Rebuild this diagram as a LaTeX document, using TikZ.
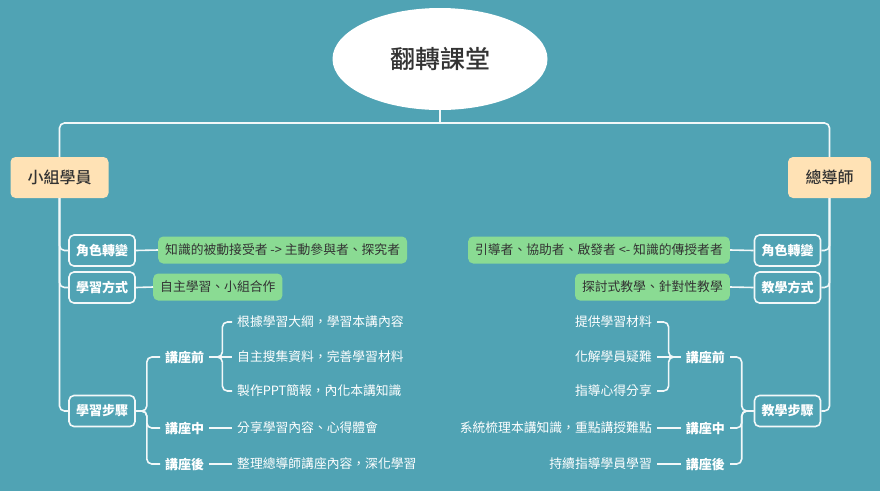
\documentclass[tikz,border=0pt]{standalone}
\usepackage{fontspec}
\setmainfont{Noto Sans CJK TC}
\newfontfamily\cjkmed[UprightFont={* Medium}]{Noto Sans CJK TC}
\usetikzlibrary{shapes.geometric}
\definecolor{bg}{HTML}{50A3B4}
\definecolor{greenc}{HTML}{8ADB93}
\definecolor{orangec}{HTML}{FFE2B5}
\definecolor{darktext}{HTML}{333333}
\definecolor{linec}{HTML}{F2F8F9}
\tikzset{
  conn/.style={draw=linec, line width=1.6pt, rounded corners=5pt},
  titlenode/.style={ellipse, fill=white, minimum width=215pt, minimum height=102pt, inner sep=0pt, font=\cjkmed\fontsize{25}{28}\selectfont, text=darktext},
  rootbox/.style={fill=orangec, rounded corners=5pt, minimum height=41pt, inner sep=0pt, font=\cjkmed\fontsize{16}{18}\selectfont, text=darktext},
  catbox/.style={draw=linec, line width=1.6pt, rounded corners=5pt, minimum width=66pt, minimum height=31pt, inner sep=0pt, font=\fontsize{13}{15}\selectfont\bfseries, text=white},
  greenbox/.style={fill=greenc, rounded corners=5pt, minimum height=27pt, inner xsep=7pt, inner ysep=0pt, font=\fontsize{12.8}{15}\selectfont, text=darktext},
  stage/.style={inner xsep=5pt, inner ysep=2pt, font=\fontsize{13}{15}\selectfont\bfseries, text=white},
  item/.style={inner xsep=5pt, inner ysep=2pt, font=\fontsize{12.8}{15}\selectfont, text=white}
}
\begin{document}
\begin{tikzpicture}[x=1pt,y=-1pt]
\fill[bg] (0,0) rectangle (880,491);
\useasboundingbox (0,0) rectangle (880,491);

% title and roots
\node[titlenode] (title) at (440,59) {翻轉課堂};
\node[rootbox, minimum width=98pt] (stu) at (59.5,177.5) {小組學員};
\node[rootbox, minimum width=83pt] (tea) at (829.5,177.5) {總導師};

% left categories
\node[catbox] (srole) at (102,250.5) {角色轉變};
\node[catbox] (sway) at (102,287.5) {學習方式};
\node[catbox] (sstep) at (102,411) {學習步驟};
\node[greenbox, anchor=west] (srolet) at (158,250) {知識的被動接受者 -> 主動參與者、探究者};
\node[greenbox, anchor=west] (swayt) at (153,287) {自主學習、小組合作};

% left stages
\node[stage, anchor=west] (sb) at (160,357) {講座前};
\node[stage, anchor=west] (sm) at (160,428) {講座中};
\node[stage, anchor=west] (sa) at (160,464) {講座後};
\node[item, anchor=west] (sb1) at (232,322) {根據學習大綱，學習本講內容};
\node[item, anchor=west] (sb2) at (232,357) {自主搜集資料，完善學習材料};
\node[item, anchor=west] (sb3) at (232,391) {製作PPT簡報，內化本講知識};
\node[item, anchor=west] (sm1) at (232,428) {分享學習內容、心得體會};
\node[item, anchor=west] (sa1) at (232,464) {整理總導師講座內容，深化學習};

% right categories
\node[catbox] (trole) at (787.5,250.5) {角色轉變};
\node[catbox] (tway) at (787.5,287.5) {教學方式};
\node[catbox] (tstep) at (787.5,411) {教學步驟};
\node[greenbox, anchor=east] (trolet) at (730,250) {引導者、協助者、啟發者 <- 知識的傳授者者};
\node[greenbox, anchor=east] (twayt) at (730,287) {探討式教學、針對性教學};

% right stages
\node[stage, anchor=east] (tb) at (730,357) {講座前};
\node[stage, anchor=east] (tm) at (730,428) {講座中};
\node[stage, anchor=east] (ta) at (730,464) {講座後};
\node[item, anchor=east] (tb1) at (657,322) {提供學習材料};
\node[item, anchor=east] (tb2) at (657,357) {化解學員疑難};
\node[item, anchor=east] (tb3) at (657,391) {指導心得分享};
\node[item, anchor=east] (tm1) at (657,428) {系統梳理本講知識，重點講授難點};
\node[item, anchor=east] (ta1) at (657,464) {持續指導學員學習};

% connectors: top
\draw[conn] (title.south) -- (440,123);
\draw[conn] (440,123) -| (stu.north);
\draw[conn] (440,123) -| (tea.north);

% left tree
\draw[conn] (stu.south) |- (srole.west);
\draw[conn] (stu.south) |- (sway.west);
\draw[conn] (stu.south) |- (sstep.west);
\draw[conn] (srole.east) -- (srolet.west);
\draw[conn] (sway.east) -- (swayt.west);
\draw[conn] (sstep.east) -- ++(11,0) |- (sb.west);
\draw[conn] (sstep.east) -- ++(11,0) |- (sm.west);
\draw[conn] (sstep.east) -- ++(11,0) |- (sa.west);
\draw[conn] (sb.east) -- (sb2.west);
\draw[conn] (sb.east) -- ++(13,0) |- (sb1.west);
\draw[conn] (sb.east) -- ++(13,0) |- (sb3.west);
\draw[conn] (sm.east) -- (sm1.west);
\draw[conn] (sa.east) -- (sa1.west);

% right tree
\draw[conn] (tea.south) |- (trole.east);
\draw[conn] (tea.south) |- (tway.east);
\draw[conn] (tea.south) |- (tstep.east);
\draw[conn] (trole.west) -- (trolet.east);
\draw[conn] (tway.west) -- (twayt.east);
\draw[conn] (tstep.west) -- ++(-12,0) |- (tb.east);
\draw[conn] (tstep.west) -- ++(-12,0) |- (tm.east);
\draw[conn] (tstep.west) -- ++(-12,0) |- (ta.east);
\draw[conn] (tb.west) -- (tb2.east);
\draw[conn] (tb.west) -- ++(-12,0) |- (tb1.east);
\draw[conn] (tb.west) -- ++(-12,0) |- (tb3.east);
\draw[conn] (tm.west) -- (tm1.east);
\draw[conn] (ta.west) -- (ta1.east);
\end{tikzpicture}
\end{document}
